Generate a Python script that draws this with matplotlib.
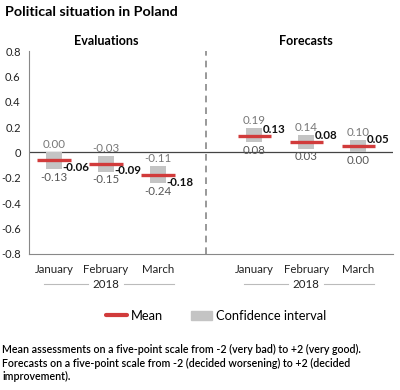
import numpy as np
import matplotlib
matplotlib.use("Agg")
import matplotlib.pyplot as plt
from matplotlib.lines import Line2D
from matplotlib.patches import Patch

plt.rcParams['font.family'] = ['Lato', 'DejaVu Sans']

# dane
months = ["January", "February", "March"]
year = "2018"
groups = ["Evaluations", "Forecasts"]

eval_mean = [-0.06, -0.09, -0.18]
eval_upper = [0.00, -0.03, -0.11]
eval_lower = [-0.13, -0.15, -0.24]

fore_mean = [0.13, 0.08, 0.05]
fore_upper = [0.19, 0.14, 0.10]
fore_lower = [0.08, 0.03, 0.00]

yticks = [0.8, 0.6, 0.4, 0.2, 0, -0.2, -0.4, -0.6, -0.8]

red = '#d13b3b'
grey_box = '#c4c4c4'
fs = 8.3

fig = plt.figure(figsize=(4, 3.9), dpi=100)
ax = fig.add_axes([0.0725, 0.349, 0.91, 0.52])

xs_eval = np.arange(3)
xs_fore = np.arange(3) + 3.85
divider = 2.92


def draw_group(ax, xs, mean, upper, lower):
    for x, m, u, l in zip(xs, mean, upper, lower):
        ax.bar(x, u - l, bottom=l, width=0.31, color=grey_box, zorder=2)
        ax.plot([x - 0.32, x + 0.32], [m, m], color=red, lw=2.4,
                solid_capstyle='butt', zorder=3)
        ax.annotate(f"{u:.2f}", (x, u), xytext=(0, 1.5), textcoords='offset points',
                    ha='center', va='bottom', fontsize=fs, color='#777777')
        ax.annotate(f"{l:.2f}", (x, l), xytext=(0, -2), textcoords='offset points',
                    ha='center', va='top', fontsize=fs, color='#555555')
        dy = 5 if m > 0 else -5
        ax.annotate(f"{m:.2f}", (x + 0.17, m), xytext=(0, dy), textcoords='offset points',
                    ha='left', va='center', fontsize=fs, fontweight='bold', color='#111111')


draw_group(ax, xs_eval, eval_mean, eval_upper, eval_lower)
draw_group(ax, xs_fore, fore_mean, fore_upper, fore_lower)

ax.axhline(0, color='#444444', lw=0.9, zorder=1)
ax.axvline(divider, color='#888888', lw=1.2, ls=(0, (4, 3)), zorder=1)

ax.set_xlim(-0.48, 6.52)
ax.set_ylim(-0.8, 0.8)
ax.set_yticks(yticks)
ax.set_yticklabels([("%.1f" % t if t != 0 else "0") for t in yticks], fontsize=8, color='#222222')
ax.set_xticks(list(xs_eval) + list(xs_fore))
ax.set_xticklabels(months + months, fontsize=fs, color='#222222')
ax.tick_params(length=0, pad=7)
ax.tick_params(axis='y', pad=6)

for s in ['top', 'right']:
    ax.spines[s].set_visible(False)
ax.spines['left'].set_color('#888888')
ax.spines['bottom'].set_color('#888888')

# grupy - tytuly
ax.text(xs_eval.mean(), 1.02, groups[0], transform=ax.get_xaxis_transform(),
        ha='center', va='bottom', fontsize=9, fontweight='bold')
ax.text(xs_fore.mean(), 1.02, groups[1], transform=ax.get_xaxis_transform(),
        ha='center', va='bottom', fontsize=9, fontweight='bold')

# rok z liniami
for xs in (xs_eval, xs_fore):
    c = xs.mean()
    ax.text(c, -0.15, year, transform=ax.get_xaxis_transform(), ha='center',
            va='center', fontsize=fs, color='#222222', clip_on=False)
    for a, b in ((xs[0] - 0.2, c - 0.35), (c + 0.35, xs[2] + 0.3)):
        ax.plot([a, b], [-0.15, -0.15], transform=ax.get_xaxis_transform(),
                color='#bbbbbb', lw=0.8, clip_on=False)

fig.text(0.012, 0.968, "Political situation in Poland", fontsize=10.3,
         fontweight='bold', ha='left', va='center')

handles = [Line2D([0], [0], color=red, lw=3, solid_capstyle='round'),
           Patch(color=grey_box)]
fig.legend(handles, ["Mean", "Confidence interval"], loc='center',
           bbox_to_anchor=(0.54, 0.19), ncol=2, frameon=False, fontsize=9.3,
           handlelength=1.6, handletextpad=0.3, columnspacing=2.2)

fig.text(0.005, 0.069, "Mean assessments on a five-point scale from -2 (very bad) to +2 (very good).\n"
         "Forecasts on a five-point scale from -2 (decided worsening) to +2 (decided\n"
         "improvement).", fontsize=7.7, fontweight='semibold', ha='left', va='center',
         linespacing=1.25)

fig.savefig("out.png", dpi=100)
